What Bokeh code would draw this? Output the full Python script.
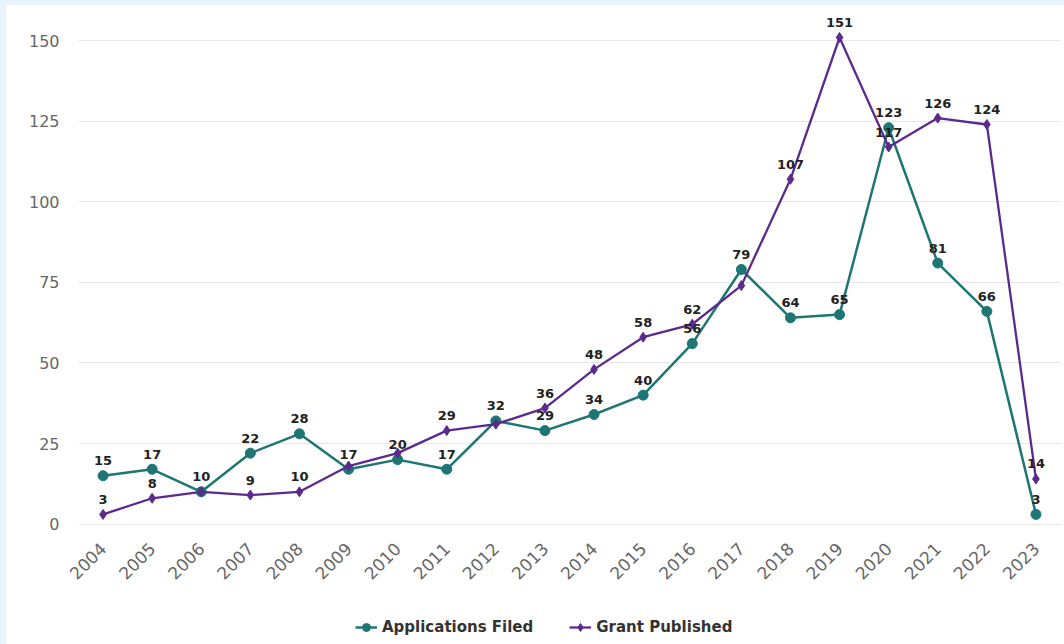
import math

from bokeh.plotting import figure
from bokeh.models import FixedTicker, Legend, LegendItem, ColumnDataSource, Range1d
from bokeh.layouts import column
from bokeh.embed import file_html
from bokeh.resources import INLINE
from bokeh.core.properties import value

# Yearly patent activity
years = list(range(2004, 2024))
applications_filed = [15, 17, 10, 22, 28, 17, 20, 17, 32, 29, 34, 40, 56, 79, 64, 65, 123, 81, 66, 3]
grant_published = [3, 8, 10, 9, 10, 18, 22, 29, 31, 36, 48, 58, 62, 74, 107, 151, 117, 126, 124, 14]
# grant labels that would collide with the applications labels are left out
grant_hidden_labels = [2006, 2009, 2010, 2012, 2017]
y_ticks = [0, 25, 50, 75, 100, 125, 150]

TEAL = "#1D7673"
PURPLE = "#5B2A8C"
FONT = "DejaVu Sans"

app_src = ColumnDataSource(dict(
    x=years, y=applications_filed,
    label=[str(v) for v in applications_filed],
))
grant_src = ColumnDataSource(dict(
    x=years, y=grant_published,
    label=["" if yr in grant_hidden_labels else str(v)
           for yr, v in zip(years, grant_published)],
))

# main chart: 1058 wide, frame 982 x 522
p = figure(
    output_backend="svg", toolbar_location=None,
    width=1058, height=610,
    x_range=Range1d(2003.5, 2023.5), y_range=Range1d(-2, 160),
    min_border_left=72, min_border_right=4, min_border_top=3, min_border_bottom=85,
    background_fill_color="white", border_fill_color="white",
    outline_line_color=None,
)

# axes
p.yaxis.ticker = FixedTicker(ticks=y_ticks)
p.xaxis.ticker = FixedTicker(ticks=years)
for ax in (p.xaxis[0], p.yaxis[0]):
    ax.axis_line_color = None
    ax.major_tick_line_color = None
    ax.major_tick_out = 0
    ax.major_tick_in = 0
    ax.minor_tick_line_color = None
    ax.major_label_text_color = "#666666"
    ax.major_label_text_font = FONT
p.yaxis.major_label_text_font_size = "16px"
p.yaxis.major_label_standoff = 19
p.xaxis.major_label_text_font_size = "17px"
p.xaxis.major_label_orientation = math.pi / 4
p.xaxis.major_label_standoff = 15

p.xgrid.grid_line_color = None
p.ygrid.grid_line_color = "#E6E6E6"
p.ygrid.grid_line_width = 1


def draw_series(fig, src, color):
    """Line plus markers for one series; returns both renderers."""
    if color == TEAL:
        ln = fig.line("x", "y", source=src, line_color=color, line_width=2.5)
        pt = fig.scatter("x", "y", source=src, marker="circle", size=10,
                         fill_color=color, line_color=color)
    else:
        ln = fig.line("x", "y", source=src, line_color=color, line_width=2.3)
        pt = fig.scatter("x", "y", source=src, marker="diamond", size=10,
                         fill_color=color, line_color=color)
    return [ln, pt]


draw_series(p, app_src, TEAL)
draw_series(p, grant_src, PURPLE)

# value labels
for src in (app_src, grant_src):
    p.text("x", "y", text="label", source=src,
           text_font=value(FONT), text_font_size="13px", text_font_style="bold",
           text_color="#222222", text_align="center", text_baseline="middle",
           y_offset=-15)

# legend strip under the chart (its ranges keep the series themselves out of view)
lg = figure(
    output_backend="svg", toolbar_location=None,
    width=1058, height=29, x_range=Range1d(0, 1), y_range=Range1d(0, 1),
    x_axis_location=None, y_axis_location=None,
    min_border=0, outline_line_color=None,
    background_fill_color="white", border_fill_color="white",
)
lg.grid.visible = False
key_app = draw_series(lg, app_src, TEAL)
key_grant = draw_series(lg, grant_src, PURPLE)

legend = Legend(
    items=[
        LegendItem(label="Applications Filed", renderers=key_app),
        LegendItem(label="Grant Published", renderers=key_grant),
    ],
    orientation="horizontal", location=(277, 7),
    label_text_font=FONT, label_text_font_size="15px", label_text_font_style="bold",
    label_text_color="#333333", glyph_width=22, glyph_height=20,
    label_standoff=5, spacing=36, padding=0, margin=0,
    border_line_color=None, background_fill_alpha=0,
)
lg.add_layout(legend, "center")

page = column(p, lg, spacing=0,
              styles={"background-color": "white",
                      "border-left": "6px solid #E7F4FC",
                      "border-top": "5px solid #E7F4FC"})

open("out.html", "w").write(file_html(page, INLINE))
